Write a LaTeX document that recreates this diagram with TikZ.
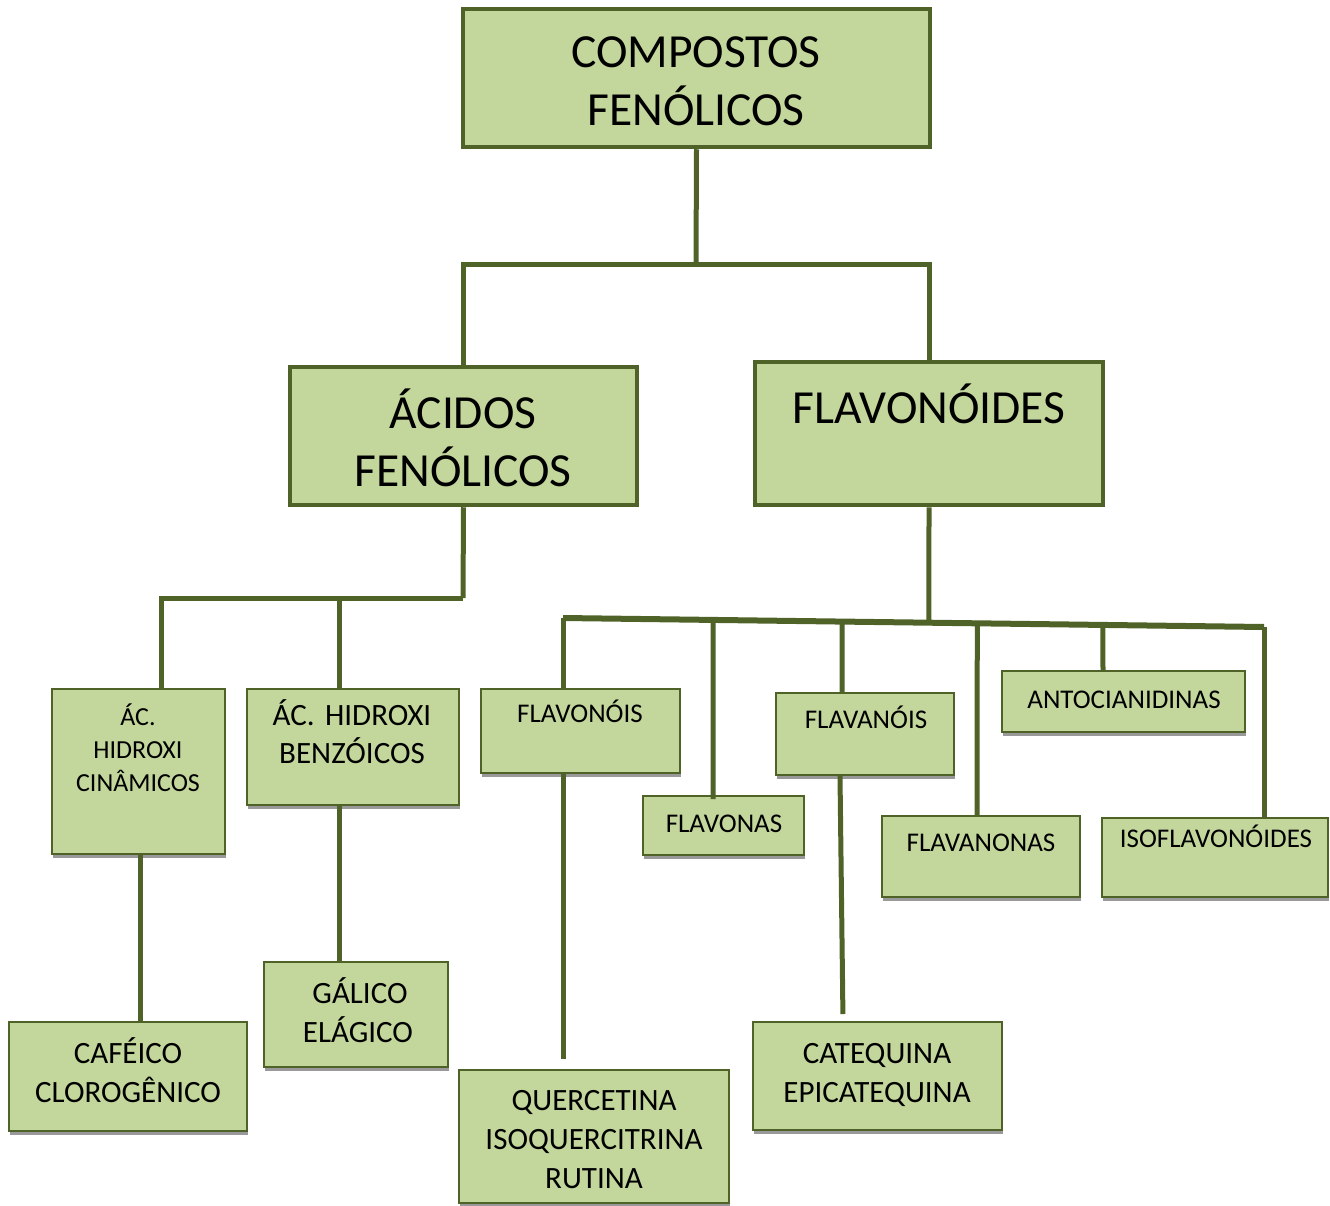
\documentclass[tikz,border=0pt]{standalone}
\usepackage{fontspec}
\setmainfont{Carlito}
\usepackage{xcolor}
\usepackage{tikz}
\usetikzlibrary{shadows}
\frenchspacing

\definecolor{olivedark}{HTML}{4F6228}
\definecolor{olivelight}{HTML}{C3D69B}

\tikzset{
  bigbox/.style={draw=olivedark, fill=olivelight, line width=4.5pt, inner sep=0pt},
  smallbox/.style={draw=olivedark, fill=olivelight, line width=2pt, inner sep=0pt,
    drop shadow={shadow xshift=1pt, shadow yshift=-4pt, fill=black!40, opacity=1}},
  link/.style={draw=olivedark, line width=5pt},
  txt/.style={anchor=base, align=center, inner sep=0pt, text width=#1},
  bigtxt/.style={font=\fontsize{47.5}{58}\selectfont},
  midtxt/.style={font=\fontsize{27}{33}\selectfont},
  lowtxt/.style={font=\fontsize{31}{39}\selectfont},
}

\begin{document}
\begin{tikzpicture}[x=1pt, y=-1pt]
\useasboundingbox (0,0) rectangle (1330,1206);

% first level
\node[bigbox, minimum width=467, minimum height=138] (comp) at (696.5,78) {};
\node[txt=460, bigtxt] (comp-t) at (696,68) {COMPOSTOS\\FENÓLICOS};

% second level
\node[bigbox, minimum width=347, minimum height=138] (acid) at (463.5,436) {};
\node[txt=340, bigtxt] (acid-t) at (463,428) {ÁCIDOS\\FENÓLICOS};
\node[bigbox, minimum width=348, minimum height=143] (flav) at (929,433.5) {};
\node[txt=340, bigtxt] (flav-t) at (929,423) {FLAVONÓIDES};

% acidos fenolicos
\node[smallbox, minimum width=173, minimum height=165] (cin) at (138.5,771.5) {};
\node[txt=170, font=\fontsize{26}{33}\selectfont] (cin-t) at (138,725) {ÁC.\\HIDROXI\\CINÂMICOS};
\node[smallbox, minimum width=212, minimum height=116] (benz) at (353,747) {};
\node[txt=210, font=\fontsize{31}{38}\selectfont] (benz-t) at (352,725) {ÁC. HIDROXI\\BENZÓICOS};
\node[smallbox, minimum width=184, minimum height=105] (gal) at (356,1014.5) {};
\node[txt=180, lowtxt] (gal-t) at (358,1003) {\hspace*{4pt}GÁLICO\\ELÁGICO};
\node[smallbox, minimum width=238, minimum height=109] (caf) at (128,1076.5) {};
\node[txt=236, lowtxt] (caf-t) at (128,1063) {CAFÉICO\\CLOROGÊNICO};

% flavonoides
\node[smallbox, minimum width=199, minimum height=84] (fvois) at (580.5,731) {};
\node[txt=196, midtxt] (fvois-t) at (580,722) {FLAVONÓIS};
\node[smallbox, minimum width=161, minimum height=59] (fvas) at (723.5,825.5) {};
\node[txt=158, midtxt] (fvas-t) at (724,832) {FLAVONAS};
\node[smallbox, minimum width=178, minimum height=82] (fnois) at (865,734) {};
\node[txt=175, midtxt] (fnois-t) at (866,728) {FLAVANÓIS};
\node[smallbox, minimum width=243, minimum height=61] (anto) at (1123.5,701.5) {};
\node[txt=240, midtxt] (anto-t) at (1124,708) {ANTOCIANIDINAS};
\node[smallbox, minimum width=198, minimum height=81] (fnon) at (981,856.5) {};
\node[txt=195, midtxt] (fnon-t) at (981,851) {FLAVANONAS};
\node[smallbox, minimum width=226, minimum height=79] (iso) at (1215,857.5) {};
\node[txt=224, midtxt] (iso-t) at (1216,847) {ISOFLAVONÓIDES};
\node[smallbox, minimum width=270, minimum height=133] (querc) at (594,1136.5) {};
\node[txt=266, lowtxt] (querc-t) at (594,1110) {QUERCETINA\\ISOQUERCITRINA\\RUTINA};
\node[smallbox, minimum width=249, minimum height=108] (cateq) at (877.5,1076) {};
\node[txt=246, lowtxt] (cateq-t) at (877,1063) {CATEQUINA\\EPICATEQUINA};

% connectors
\coordinate (j1) at (696,265);
\draw[link] (comp.south) -- (j1);
\draw[link] (acid.north) |- (j1);
\draw[link] (flav.north) |- (j1);

\coordinate (j2) at (463,598);
\draw[link] (acid.south) -- (j2);
\draw[link] ([xshift=22.5]cin.north) |- (j2);
\draw[link] ([xshift=-14]benz.north) -- ([xshift=-14]benz.north |- j2);
\draw[link] ([xshift=-14]benz.south) -- ([xshift=-14]benz.south |- gal.north);
\draw[link] ([xshift=1.5]cin.south) -- ([xshift=1.5]cin.south |- caf.north);

\coordinate (b1) at (563,618);
\coordinate (b2) at (1264,627);
\path (b1) -- (b2) coordinate[pos=0.214] (p2) coordinate[pos=0.398] (p3)
  coordinate[pos=0.522] (p4) coordinate[pos=0.591] (p5) coordinate[pos=0.770] (p6);
\draw[link, line width=6pt] (b1) -- (b2);
\draw[link] (flav.south) -- (p4);
\draw[link] (b1) -- ([xshift=-17.5]fvois.north);
\draw[link] (p2) -- ([xshift=-10.5,yshift=-4]fvas.north);
\draw[link] (p3) -- ([xshift=-23]fnois.north);
\draw[link] (p5) -- ([xshift=-4]fnon.north);
\draw[link] (p6) -- ([xshift=-20.5]anto.north);
\draw[link] (b2) -- ([xshift=49]iso.north);
\draw[link, shorten >=10] ([xshift=-17.5]fvois.south) -- ([xshift=-31]querc.north);
\draw[link, shorten >=7] ([xshift=-25]fnois.south) -- ([xshift=-34.5]cateq.north);
\end{tikzpicture}
\end{document}
